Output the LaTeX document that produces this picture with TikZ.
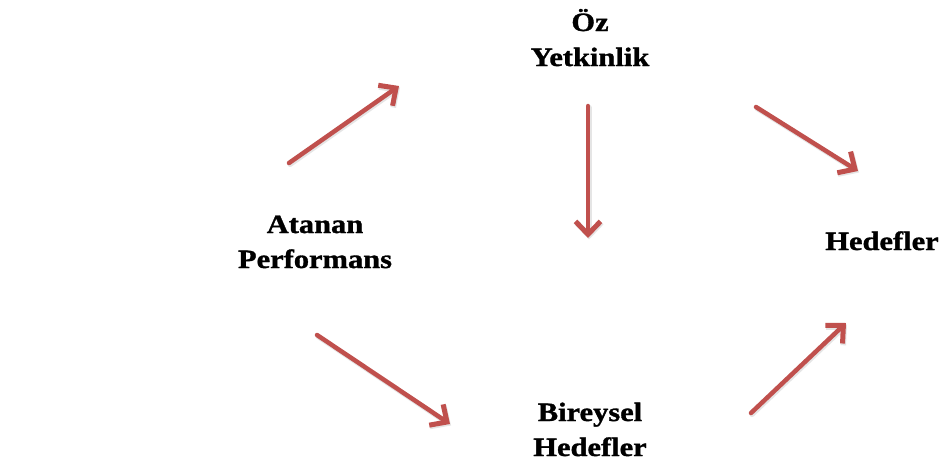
\documentclass[tikz,border=0pt]{standalone}
\usepackage{fontspec}
\setmainfont{Liberation Serif}[FakeStretch=1.15,FakeBold=1.2]
\usetikzlibrary{arrows.meta}
\definecolor{arrowred}{RGB}{192,80,77}
\tikzset{
  lbl/.style={anchor=base, inner sep=0pt, font=\fontsize{26.5}{35}\selectfont\bfseries},
  redarrow/.style={draw=arrowred, line width=4.5pt, line cap=round,
    -{Straight Barb[length=13pt, width=25pt, line width=5pt]}},
  shadowarrow/.style={draw=black!10, line width=5pt, line cap=round,
    -{Straight Barb[length=13pt, width=25pt, line width=5.5pt]}}
}
\newcommand{\twolines}[2]{\begin{tabular}[t]{@{}c@{}}#1\\#2\end{tabular}}
\begin{document}
\begin{tikzpicture}[x=1pt, y=-1pt]
  \useasboundingbox (0,0) rectangle (943,466);
  \fill[white] (0,0) rectangle (943,466);
  % labels
  \node[lbl] (oz) at (590,31) {\twolines{Öz}{Yetkinlik}};
  \node[lbl] (atanan) at (315,233) {\twolines{Atanan}{Performans}};
  \node[lbl] (hedefler) at (882,250) {Hedefler};
  \node[lbl] (bireysel) at (590,421) {\twolines{Bireysel}{Hedefler}};
  % arrow end coordinates
  \coordinate (a1s) at (289,163); \coordinate (a1e) at (399,86);
  \coordinate (a2s) at (588,106); \coordinate (a2e) at (588,238);
  \coordinate (a3s) at (756,107); \coordinate (a3e) at (858,171);
  \coordinate (a4s) at (317,335); \coordinate (a4e) at (450,424);
  \coordinate (a5s) at (751,413); \coordinate (a5e) at (846,323);
  % shadows
  \foreach \s/\e in {a1s/a1e, a2s/a2e, a3s/a3e, a4s/a4e, a5s/a5e}
    \draw[shadowarrow, transform canvas={shift={(1pt,-1.5pt)}}] (\s) -- (\e);
  % arrows
  \foreach \s/\e in {a1s/a1e, a2s/a2e, a3s/a3e, a4s/a4e, a5s/a5e}
    \draw[redarrow] (\s) -- (\e);
\end{tikzpicture}
\end{document}
